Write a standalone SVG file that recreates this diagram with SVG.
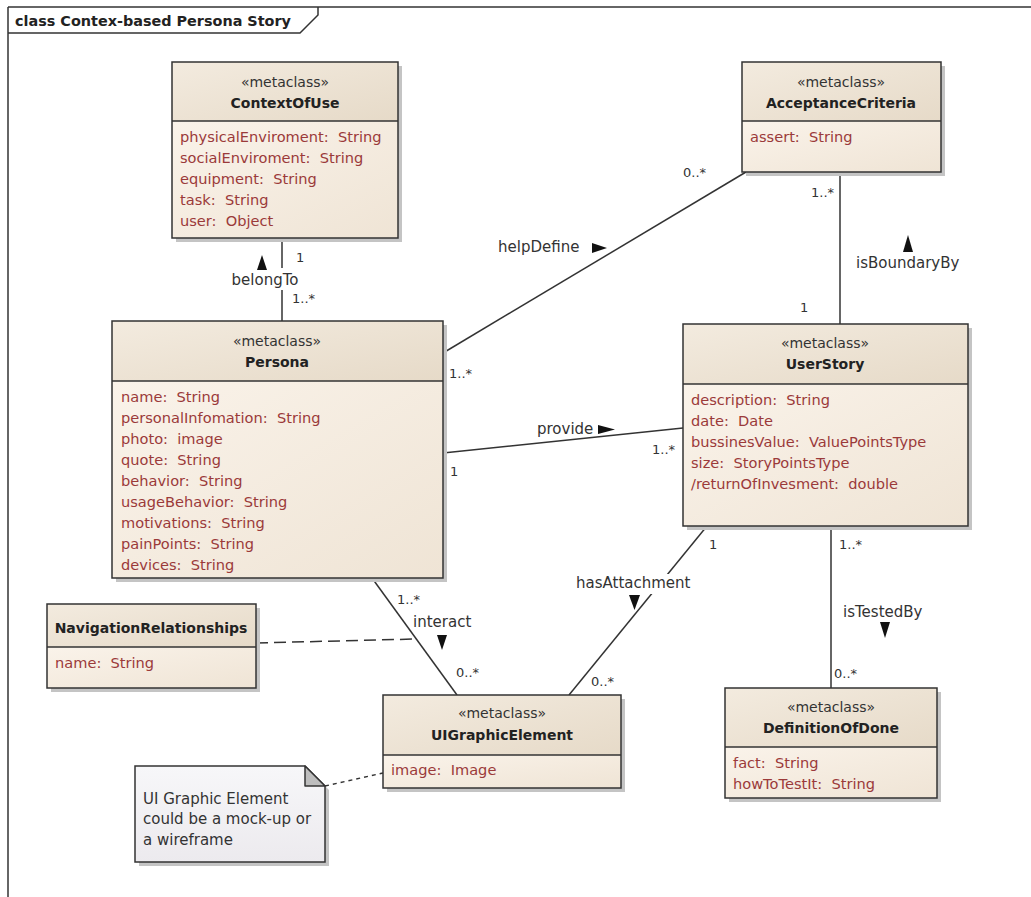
<svg xmlns="http://www.w3.org/2000/svg" width="1031" height="897" viewBox="0 0 1031 897">
<style>
text{font-family:"DejaVu Sans","Liberation Sans",sans-serif;font-size:14px;fill:#333;white-space:pre}
.c{text-anchor:middle}
.nm{font-weight:bold;fill:#222}
.at{fill:#9b3a3a;font-size:14.6px}
.lb{font-size:15px}
.mul{font-size:13px}
.box{stroke:#333;stroke-width:1.5}
.hdr{fill:url(#gh)}
.bdy{fill:url(#gb)}
.sh{fill:#c4c4c4}
.ln{stroke:#333;stroke-width:1.5;fill:none}
.arr{fill:#111}
</style>
<defs>
<linearGradient id="gh" x1="0" y1="0" x2="1" y2="1">
<stop offset="0" stop-color="#f3ebdf"/><stop offset="1" stop-color="#e6dac8"/>
</linearGradient>
<linearGradient id="gb" x1="0" y1="0" x2="1" y2="1">
<stop offset="0" stop-color="#faf3ea"/><stop offset="1" stop-color="#efe4d5"/>
</linearGradient>
<linearGradient id="gn" x1="0" y1="0" x2="0" y2="1">
<stop offset="0" stop-color="#f7f7f9"/><stop offset="1" stop-color="#eceaee"/>
</linearGradient>
</defs>
<rect width="1031" height="897" fill="#fff"/>
<g id="frame">
<line x1="8" y1="7" x2="1031" y2="7" class="ln"/>
<line x1="8" y1="7" x2="8" y2="897" class="ln"/>
<polyline points="8,33 300,33 318,15 318,7" class="ln"/>
<text x="15" y="26" class="nm" style="font-size:14.4px">class Contex-based Persona Story</text>
</g>
<g id="connectors">
<line x1="282" y1="238" x2="282" y2="321" class="ln"/>
<line x1="443" y1="353" x2="746" y2="172" class="ln"/>
<line x1="443" y1="453" x2="683" y2="428" class="ln"/>
<line x1="840" y1="172" x2="840" y2="324" class="ln"/>
<line x1="707" y1="526" x2="569" y2="695" class="ln"/>
<line x1="831" y1="526" x2="831" y2="688" class="ln"/>
<line x1="372" y1="578" x2="457" y2="695" class="ln"/>
<line x1="256" y1="643" x2="416" y2="639" class="ln" stroke-dasharray="12,6"/>
<line x1="325" y1="786" x2="383" y2="773" class="ln" stroke-dasharray="4,4"/>
<rect x="228" y="268" width="74" height="22" fill="#fff"/>
<rect x="574" y="574" width="120" height="20" fill="#fff"/>
<text x="265" y="285" class="c lb">belongTo</text>
<polygon points="262,255 257,270 267,270" class="arr"/>
<text x="498" y="252" class="lb">helpDefine</text>
<polygon points="592,243 592,253 607,248" class="arr"/>
<text x="537" y="434" class="lb">provide</text>
<polygon points="598,425 598,434 615,429.5" class="arr"/>
<text x="856" y="268" class="lb">isBoundaryBy</text>
<polygon points="908,235 903,252 913,252" class="arr"/>
<text x="576" y="588" class="lb">hasAttachment</text>
<polygon points="629,595 640,595 634.5,610" class="arr"/>
<text x="843" y="617" class="lb">isTestedBy</text>
<polygon points="880,622 890,622 885,638" class="arr"/>
<text x="413" y="627" class="lb">interact</text>
<polygon points="437,635 447,635 442,650" class="arr"/>
<text x="296" y="262" class="mul">1</text>
<text x="292" y="303" class="mul">1..*</text>
<text x="683" y="177" class="mul">0..*</text>
<text x="449" y="378" class="mul">1..*</text>
<text x="450" y="476" class="mul">1</text>
<text x="652" y="454" class="mul">1..*</text>
<text x="811" y="197" class="mul">1..*</text>
<text x="800" y="312" class="mul">1</text>
<text x="709" y="549" class="mul">1</text>
<text x="591" y="686" class="mul">0..*</text>
<text x="839" y="549" class="mul">1..*</text>
<text x="834" y="678" class="mul">0..*</text>
<text x="397" y="604" class="mul">1..*</text>
<text x="456" y="677" class="mul">0..*</text>
</g>
<g id="ContextOfUse">
<rect x="176" y="66" width="226" height="176" class="sh"/>
<rect x="172" y="62" width="226" height="59" class="hdr"/>
<rect x="172" y="121" width="226" height="117" class="bdy"/>
<rect x="172" y="62" width="226" height="176" class="box" fill="none"/>
<line x1="172" y1="121" x2="398" y2="121" class="box"/>
<text x="285" y="87" class="c">«metaclass»</text>
<text x="285" y="108" class="c nm">ContextOfUse</text>
<text x="180" y="142" class="at">physicalEnviroment:  String</text>
<text x="180" y="163" class="at">socialEnviroment:  String</text>
<text x="180" y="184" class="at">equipment:  String</text>
<text x="180" y="205" class="at">task:  String</text>
<text x="180" y="226" class="at">user:  Object</text>
</g>
<g id="AcceptanceCriteria">
<rect x="746" y="66" width="199" height="110" class="sh"/>
<rect x="742" y="62" width="199" height="59" class="hdr"/>
<rect x="742" y="121" width="199" height="51" class="bdy"/>
<rect x="742" y="62" width="199" height="110" class="box" fill="none"/>
<line x1="742" y1="121" x2="941" y2="121" class="box"/>
<text x="841" y="87" class="c">«metaclass»</text>
<text x="841" y="108" class="c nm">AcceptanceCriteria</text>
<text x="750" y="142" class="at">assert:  String</text>
</g>
<g id="Persona">
<rect x="116" y="325" width="331" height="257" class="sh"/>
<rect x="112" y="321" width="331" height="60" class="hdr"/>
<rect x="112" y="381" width="331" height="197" class="bdy"/>
<rect x="112" y="321" width="331" height="257" class="box" fill="none"/>
<line x1="112" y1="381" x2="443" y2="381" class="box"/>
<text x="277" y="346" class="c">«metaclass»</text>
<text x="277" y="367" class="c nm">Persona</text>
<text x="121" y="402" class="at">name:  String</text>
<text x="121" y="423" class="at">personalInfomation:  String</text>
<text x="121" y="444" class="at">photo:  image</text>
<text x="121" y="465" class="at">quote:  String</text>
<text x="121" y="486" class="at">behavior:  String</text>
<text x="121" y="507" class="at">usageBehavior:  String</text>
<text x="121" y="528" class="at">motivations:  String</text>
<text x="121" y="549" class="at">painPoints:  String</text>
<text x="121" y="570" class="at">devices:  String</text>
</g>
<g id="UserStory">
<rect x="687" y="328" width="285" height="202" class="sh"/>
<rect x="683" y="324" width="285" height="60" class="hdr"/>
<rect x="683" y="384" width="285" height="142" class="bdy"/>
<rect x="683" y="324" width="285" height="202" class="box" fill="none"/>
<line x1="683" y1="384" x2="968" y2="384" class="box"/>
<text x="825" y="348" class="c">«metaclass»</text>
<text x="825" y="369" class="c nm">UserStory</text>
<text x="691" y="405" class="at">description:  String</text>
<text x="691" y="426" class="at">date:  Date</text>
<text x="691" y="447" class="at">bussinesValue:  ValuePointsType</text>
<text x="691" y="468" class="at">size:  StoryPointsType</text>
<text x="691" y="489" class="at">/returnOfInvesment:  double</text>
</g>
<g id="NavigationRelationships">
<rect x="51" y="608" width="209" height="84" class="sh"/>
<rect x="47" y="604" width="209" height="43" class="hdr"/>
<rect x="47" y="647" width="209" height="41" class="bdy"/>
<rect x="47" y="604" width="209" height="84" class="box" fill="none"/>
<line x1="47" y1="647" x2="256" y2="647" class="box"/>
<text x="151" y="633" class="c nm">NavigationRelationships</text>
<text x="55" y="668" class="at">name:  String</text>
</g>
<g id="UIGraphicElement">
<rect x="387" y="699" width="238" height="93" class="sh"/>
<rect x="383" y="695" width="238" height="60" class="hdr"/>
<rect x="383" y="755" width="238" height="33" class="bdy"/>
<rect x="383" y="695" width="238" height="93" class="box" fill="none"/>
<line x1="383" y1="755" x2="621" y2="755" class="box"/>
<text x="502" y="718" class="c">«metaclass»</text>
<text x="502" y="740" class="c nm">UIGraphicElement</text>
<text x="391" y="775" class="at">image:  Image</text>
</g>
<g id="DefinitionOfDone">
<rect x="729" y="692" width="212" height="110" class="sh"/>
<rect x="725" y="688" width="212" height="59" class="hdr"/>
<rect x="725" y="747" width="212" height="51" class="bdy"/>
<rect x="725" y="688" width="212" height="110" class="box" fill="none"/>
<line x1="725" y1="747" x2="937" y2="747" class="box"/>
<text x="831" y="712" class="c">«metaclass»</text>
<text x="831" y="733" class="c nm">DefinitionOfDone</text>
<text x="733" y="768" class="at">fact:  String</text>
<text x="733" y="789" class="at">howToTestIt:  String</text>
</g>
<g id="Note">
<polygon points="139,770 309,770 329,790 329,866 139,866" class="sh"/>
<polygon points="135,766 305,766 325,786 325,862 135,862" fill="url(#gn)" class="box"/>
<polygon points="305,766 305,786 325,786" fill="#bdbdbd" class="box" stroke-linejoin="round"/>
<text x="143" y="804" class="lb">UI Graphic Element</text>
<text x="143" y="824" class="lb">could be a mock-up or</text>
<text x="143" y="845" class="lb">a wireframe</text>
</g>
</svg>
